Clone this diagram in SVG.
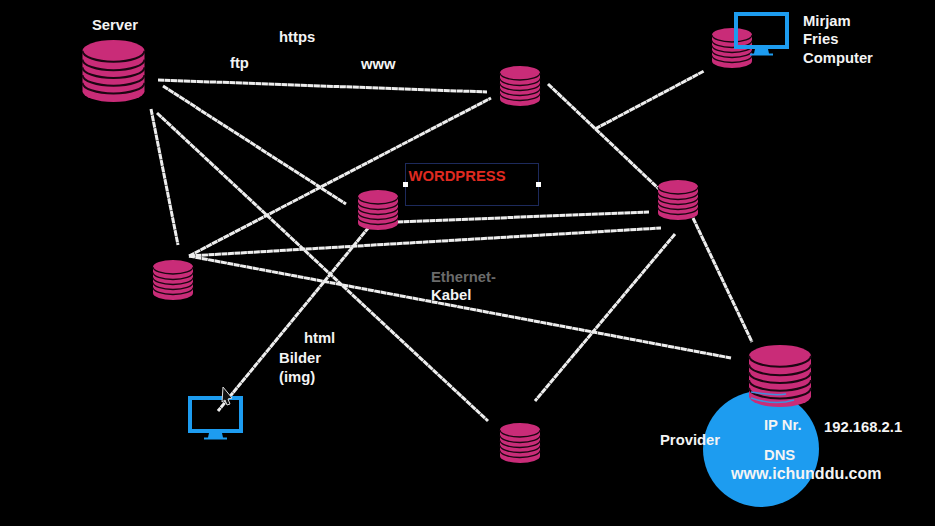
<svg xmlns="http://www.w3.org/2000/svg" width="935" height="526" viewBox="0 0 935 526">
<style>
text{font-family:"Liberation Sans",Arial,sans-serif;font-weight:700;font-size:14.800px;fill:#f4f4f4}
.lk{stroke:#ededed;stroke-width:3;fill:none;stroke-dasharray:6 .5}
.big{font-size:16px}
.bl{fill:#1d9cf0}
.arc{fill:none;stroke:#1c0612;stroke-width:1.300}
</style>
<defs>
<symbol id="db" viewBox="0 0 40 40" overflow="visible">
<path d="M0 7A20 7 0 0 1 40 7V33A20 7 0 0 1 0 33Z" fill="#c92c78"/>
<path class="arc" d="M0 7A20 7 0 0 0 40 7M0 12.500A20 7 0 0 0 40 12.500M0 17.500A20 7 0 0 0 40 17.500M0 22.500A20 7 0 0 0 40 22.500M0 27.500A20 7 0 0 0 40 27.500"/>
</symbol>
<g id="mon">
<rect x="2" y="2" width="51" height="33" fill="none" stroke="#1d9cf0" stroke-width="4"/>
<path class="bl" d="M21 37H34L35 41.500H39V43.500H16V41.500H20Z"/>
</g>
</defs>
<rect width="935" height="526" fill="#000"/>
<g id="provider-circle"><circle cx="761" cy="449" r="58" class="bl"/></g>
<g id="connectors">
<path class="lk" d="M158 80L487 92"/>
<path class="lk" d="M163 86L346 204"/>
<path class="lk" d="M151 109L178 245"/>
<path class="lk" d="M157 113L488 421"/>
<path class="lk" d="M189 256L491 98"/>
<path class="lk" d="M189 256L661 228"/>
<path class="lk" d="M189 256L731 358"/>
<path class="lk" d="M397 222L649 212"/>
<path class="lk" d="M369 227L218 411"/>
<path class="lk" d="M548 84L660 190"/>
<path class="lk" d="M595 129L704 71"/>
<path class="lk" d="M693 218L752 342"/>
<path class="lk" d="M675 234L535 401"/>
</g>
<g id="server"><use href="#db" x="82" y="40" width="63" height="62"/><text x="92" y="30">Server</text></g>
<g id="db-top"><use href="#db" x="500" y="66" width="40" height="40"/></g>
<g id="db-wordpress"><use href="#db" x="358" y="190" width="40" height="40"/></g>
<g id="db-right"><use href="#db" x="658" y="180" width="40" height="40"/></g>
<g id="db-left"><use href="#db" x="153" y="260" width="40" height="40"/></g>
<g id="db-bottom"><use href="#db" x="500" y="423" width="40" height="40"/></g>
<g id="computer-mirjam"><use href="#db" x="712" y="28" width="40" height="40"/><use href="#mon" x="734" y="12"/>
<text x="803" y="26">Mirjam</text><text x="803" y="44">Fries</text><text x="803" y="63">Computer</text></g>
<g id="computer-left"><use href="#mon" transform="translate(188 396)"/>
<path d="M223 387L232 398L228 399L230 404L227 405L225 400L222 402Z" fill="#111" stroke="#ddd" stroke-width="1"/></g>
<g id="provider"><use href="#db" x="749" y="345" width="62" height="62"/>
<path d="M751 392Q775 396 786 394M751 398Q775 406 794 400" fill="none" stroke="#3f8fdc" stroke-width="1.500"/>
<text x="660" y="445">Provider</text><text x="764" y="430">IP Nr.</text><text x="824" y="432">192.168.2.1</text><text x="764" y="460">DNS</text><text x="731" y="479" class="big">www.ichunddu.com</text></g>
<g id="wordpress-box">
<rect x="405.500" y="163.500" width="133" height="42" fill="none" stroke="#1d2a5c"/>
<rect x="403" y="182" width="5" height="5" fill="#fff"/><rect x="536" y="182" width="5" height="5" fill="#fff"/>
<text x="408.500" y="181" style="fill:#e02a20">WORDPRESS</text></g>
<g id="labels">
<text x="279" y="42">https</text><text x="230" y="68">ftp</text><text x="361" y="69">www</text>
<text x="431" y="282" style="fill:#6a6a6a">Ethernet-</text><text x="431" y="300">Kabel</text>
<text x="304" y="343">html</text><text x="279" y="363">Bilder</text><text x="279" y="382">(img)</text>
</g>
</svg>
